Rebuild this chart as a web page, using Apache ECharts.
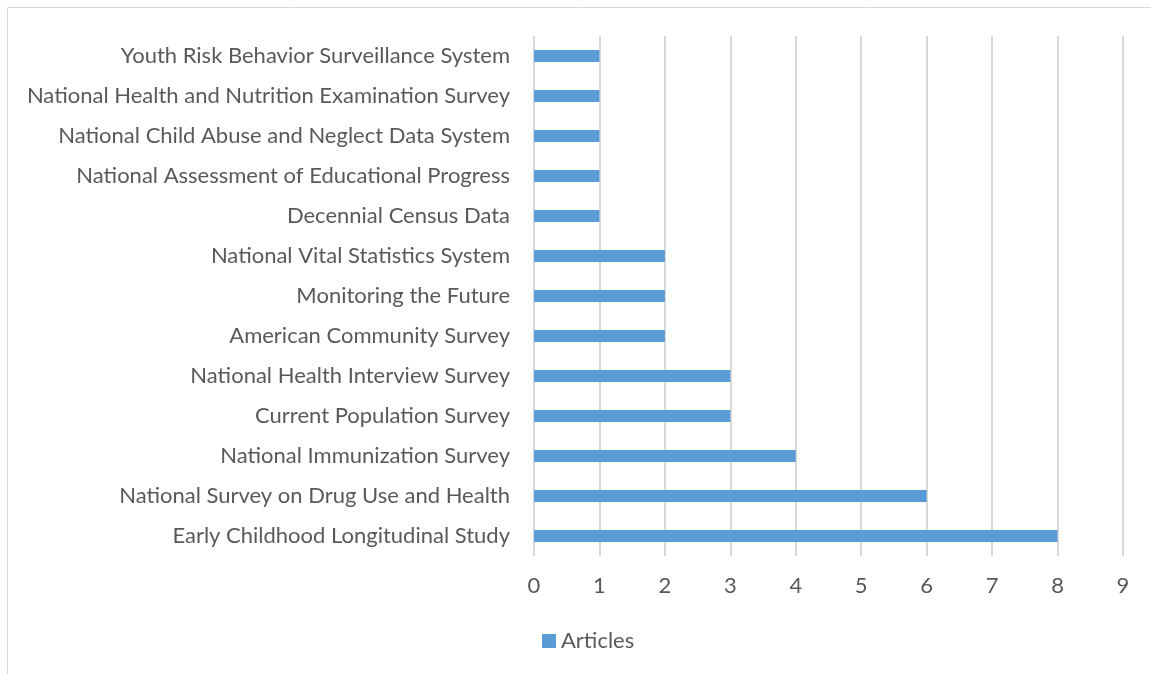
<!DOCTYPE html>
<html><head><meta charset="utf-8">
<script src="https://cdn.jsdelivr.net/npm/echarts@6/dist/echarts.min.js"></script>
<style>html,body{margin:0;padding:0;background:#fff}#c{width:1151px;height:674px}</style>
</head><body><div id="c"></div>
<script>
const categories = [
  "Early Childhood Longitudinal Study",
  "National Survey on Drug Use and Health",
  "National Immunization Survey",
  "Current Population Survey",
  "National Health Interview Survey",
  "American Community Survey",
  "Monitoring the Future",
  "National Vital Statistics System",
  "Decennial Census Data",
  "National Assessment of Educational Progress",
  "National Child Abuse and Neglect Data System",
  "National Health and Nutrition Examination Survey",
  "Youth Risk Behavior Surveillance System"
];
const articles = [8, 6, 4, 3, 3, 2, 2, 2, 1, 1, 1, 1, 1];
const seriesName = "Articles";
const xTicks = [0, 9, 1];

const font = "Lato, 'Open Sans', sans-serif";
const chart = echarts.init(document.getElementById('c'));
chart.setOption({
  animation: false,
  graphic: [{
    type: 'rect', shape: {x: 7.5, y: 7.5, width: 1200, height: 700},
    style: {fill: 'none', stroke: '#d9d9d9', lineWidth: 1}, silent: true
  }],
  grid: {left: 534, right: 28, top: 36, bottom: 118, containLabel: false},
  legend: {
    bottom: 22, left: 542, padding: 0, data: [seriesName],
    icon: 'rect', itemWidth: 14, itemHeight: 14, itemGap: 5,
    textStyle: {color: '#595959', fontSize: 22, fontFamily: font}
  },
  xAxis: {
    type: 'value', min: xTicks[0], max: xTicks[1], interval: xTicks[2],
    axisLine: {show: false}, axisTick: {show: false},
    splitLine: {show: true, lineStyle: {color: '#d9d9d9', width: 2}},
    axisLabel: {color: '#595959', fontSize: 22, fontFamily: font, margin: 19}
  },
  yAxis: {
    type: 'category', data: categories,
    axisLine: {show: false}, axisTick: {show: false},
    axisLabel: {color: '#595959', fontSize: 22, fontFamily: font, margin: 24}
  },
  series: [{
    name: seriesName, type: 'bar', data: articles, barWidth: 12,
    itemStyle: {color: '#5b9bd5'}
  }]
});
</script></body></html>
